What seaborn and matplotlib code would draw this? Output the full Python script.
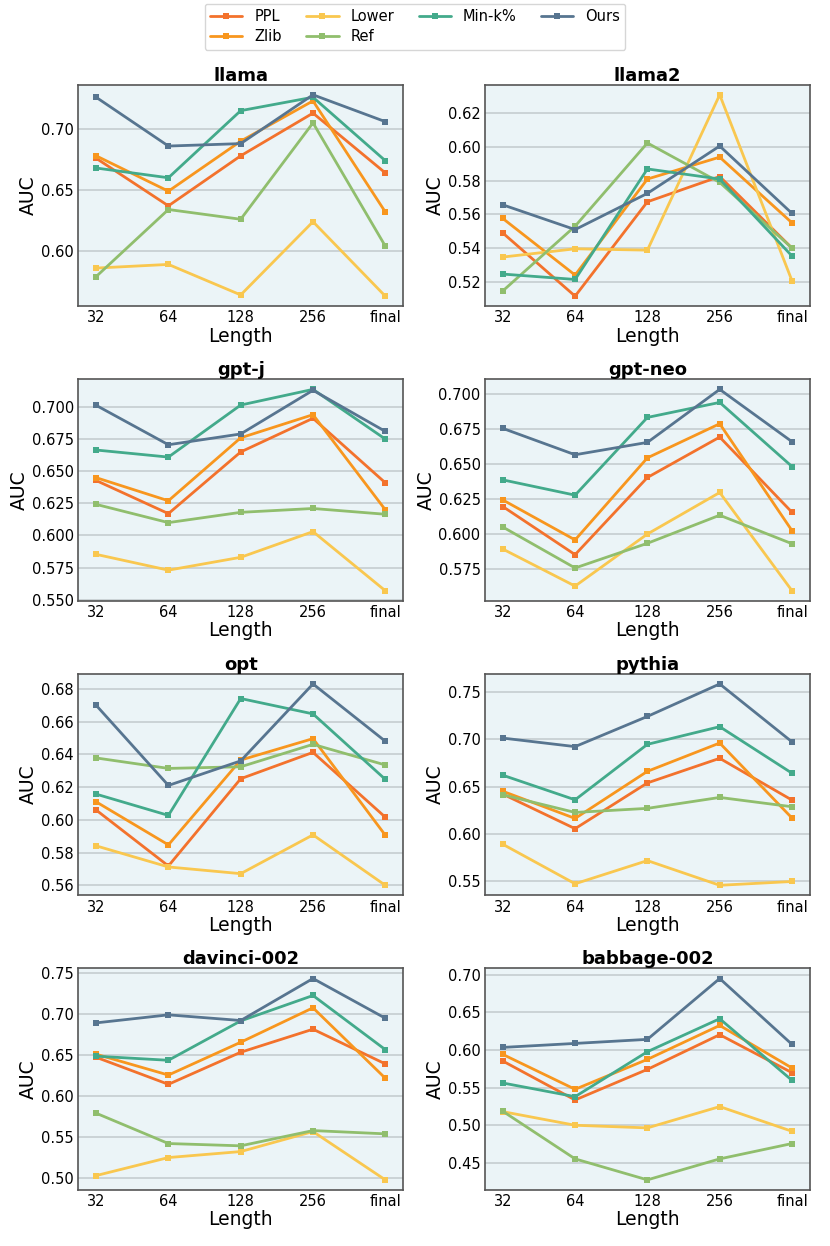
import numpy as np
import pandas as pd
import seaborn as sns
import matplotlib.pyplot as plt

lengths = ['32', '64', '128', '256', 'final']
methods = ['PPL', 'Zlib', 'Lower', 'Ref', 'Min-k%', 'Ours']
colors = ['#F3722C', '#F8961E', '#F9C74F', '#90BE6D', '#43AA8B', '#577590']
models = ['llama', 'llama2', 'gpt-j', 'gpt-neo', 'opt', 'pythia', 'davinci-002', 'babbage-002']

# AUC per model, rows follow `methods`
llama = [
    [0.676, 0.637, 0.678, 0.713, 0.664],
    [0.678, 0.649, 0.690, 0.723, 0.632],
    [0.586, 0.589, 0.564, 0.624, 0.563],
    [0.579, 0.634, 0.626, 0.705, 0.604],
    [0.668, 0.660, 0.715, 0.726, 0.674],
    [0.726, 0.686, 0.688, 0.728, 0.706],
]
llama2 = [
    [0.549, 0.5115, 0.5675, 0.5825, 0.540],
    [0.5576, 0.524, 0.581, 0.594, 0.555],
    [0.5347, 0.5396, 0.5388, 0.631, 0.5206],
    [0.5146, 0.553, 0.6024, 0.579, 0.540],
    [0.5246, 0.5214, 0.587, 0.581, 0.5353],
    [0.5657, 0.551, 0.5725, 0.6006, 0.5606],
]
gpt_j = [
    [0.6428, 0.617, 0.665, 0.6912, 0.641],
    [0.645, 0.627, 0.676, 0.694, 0.620],
    [0.5853, 0.573, 0.583, 0.603, 0.557],
    [0.6242, 0.610, 0.618, 0.621, 0.6165],
    [0.6665, 0.661, 0.7015, 0.7137, 0.675],
    [0.7013, 0.6706, 0.679, 0.713, 0.681],
]
gpt_neo = [
    [0.6198, 0.5855, 0.6405, 0.6693, 0.6157],
    [0.6245, 0.596, 0.6545, 0.6788, 0.6026],
    [0.5895, 0.5631, 0.6002, 0.6298, 0.5598],
    [0.6052, 0.576, 0.5936, 0.6136, 0.5933],
    [0.6388, 0.6279, 0.6833, 0.694, 0.6483],
    [0.6755, 0.6567, 0.6655, 0.7033, 0.666],
]
opt = [
    [0.606, 0.5718, 0.6251, 0.6412, 0.6016],
    [0.611, 0.5847, 0.6365, 0.6496, 0.5906],
    [0.5841, 0.5712, 0.5671, 0.5908, 0.560],
    [0.6378, 0.6314, 0.6324, 0.6461, 0.6335],
    [0.6157, 0.6027, 0.6741, 0.6647, 0.6247],
    [0.670, 0.621, 0.636, 0.683, 0.648],
]
pythia = [
    [0.642, 0.6056, 0.6538, 0.6797, 0.6357],
    [0.645, 0.6164, 0.666, 0.6958, 0.6168],
    [0.5892, 0.5476, 0.572, 0.546, 0.550],
    [0.6413, 0.6227, 0.627, 0.6385, 0.6287],
    [0.6619, 0.636, 0.6944, 0.713, 0.664],
    [0.701, 0.692, 0.7238, 0.758, 0.697],
]
davinci = [
    [0.6467, 0.6137, 0.6528, 0.6809, 0.6386],
    [0.6504, 0.625, 0.665, 0.707, 0.6211],
    [0.5024, 0.5244, 0.5317, 0.5561, 0.4972],
    [0.5785, 0.5415, 0.5387, 0.5573, 0.5533],
    [0.648, 0.643, 0.691, 0.722, 0.656],
    [0.6886, 0.6984, 0.6915, 0.7427, 0.6943],
]
babbage = [
    [0.5854, 0.5336, 0.5743, 0.6204, 0.5699],
    [0.5942, 0.5478, 0.5876, 0.6327, 0.5761],
    [0.5181, 0.500, 0.4965, 0.5248, 0.492],
    [0.5186, 0.4553, 0.4274, 0.4553, 0.4757],
    [0.5562, 0.538, 0.5978, 0.6416, 0.5597],
    [0.6035, 0.6088, 0.6142, 0.6951, 0.6075],
]
results = [llama, llama2, gpt_j, gpt_neo, opt, pythia, davinci, babbage]


def to_frame(values):
    rows = []
    for m, vals in zip(methods, values):
        for l, v in zip(lengths, vals):
            rows.append({'Length': l, 'AUC': v, 'Method': m})
    return pd.DataFrame(rows)


sns.set_style('white')
plt.rcParams['font.family'] = ['DejaVu Sans']
plt.rcParams['text.color'] = 'black'
plt.rcParams['axes.labelcolor'] = 'black'
plt.rcParams['xtick.color'] = 'black'
plt.rcParams['ytick.color'] = 'black'

fig, axes = plt.subplots(4, 2, figsize=(8.3, 12.46), dpi=100)
plt.subplots_adjust(left=0.094, right=0.976, top=0.932, bottom=0.045,
                    hspace=0.33, wspace=0.25)

for ax, name, vals in zip(axes.flat, models, results):
    df = to_frame(vals)
    sns.lineplot(data=df, x='Length', y='AUC', hue='Method', palette=colors,
                 marker='s', markersize=4.5, markeredgewidth=0, linewidth=2,
                 sort=False, ax=ax, legend=(name == 'llama'))
    ax.set_facecolor('#EBF4F7')
    ax.yaxis.grid(True, color='#C5CDD0', linewidth=1.2)
    ax.set_axisbelow(True)
    for s in ax.spines.values():
        s.set_color('#555555')
        s.set_linewidth(1.2)
    ax.set_title(name, fontsize=13, fontweight='bold', pad=3)
    ax.set_xlabel('Length', fontsize=13.5, labelpad=1)
    ax.set_ylabel('AUC', fontsize=13.5, labelpad=2)
    ax.tick_params(axis='both', labelsize=10.5, length=0, pad=3)
    ax.set_xlim(-0.25, 4.25)

handles, labels = axes[0, 0].get_legend_handles_labels()
axes[0, 0].get_legend().remove()
fig.legend(handles, labels, loc='upper center', ncol=4, frameon=True,
           fontsize=10.5, bbox_to_anchor=(0.5, 1.003), handlelength=2.2,
           columnspacing=1.7, borderpad=0.4, labelspacing=0.3)

fig.savefig('out.png', dpi=100)
